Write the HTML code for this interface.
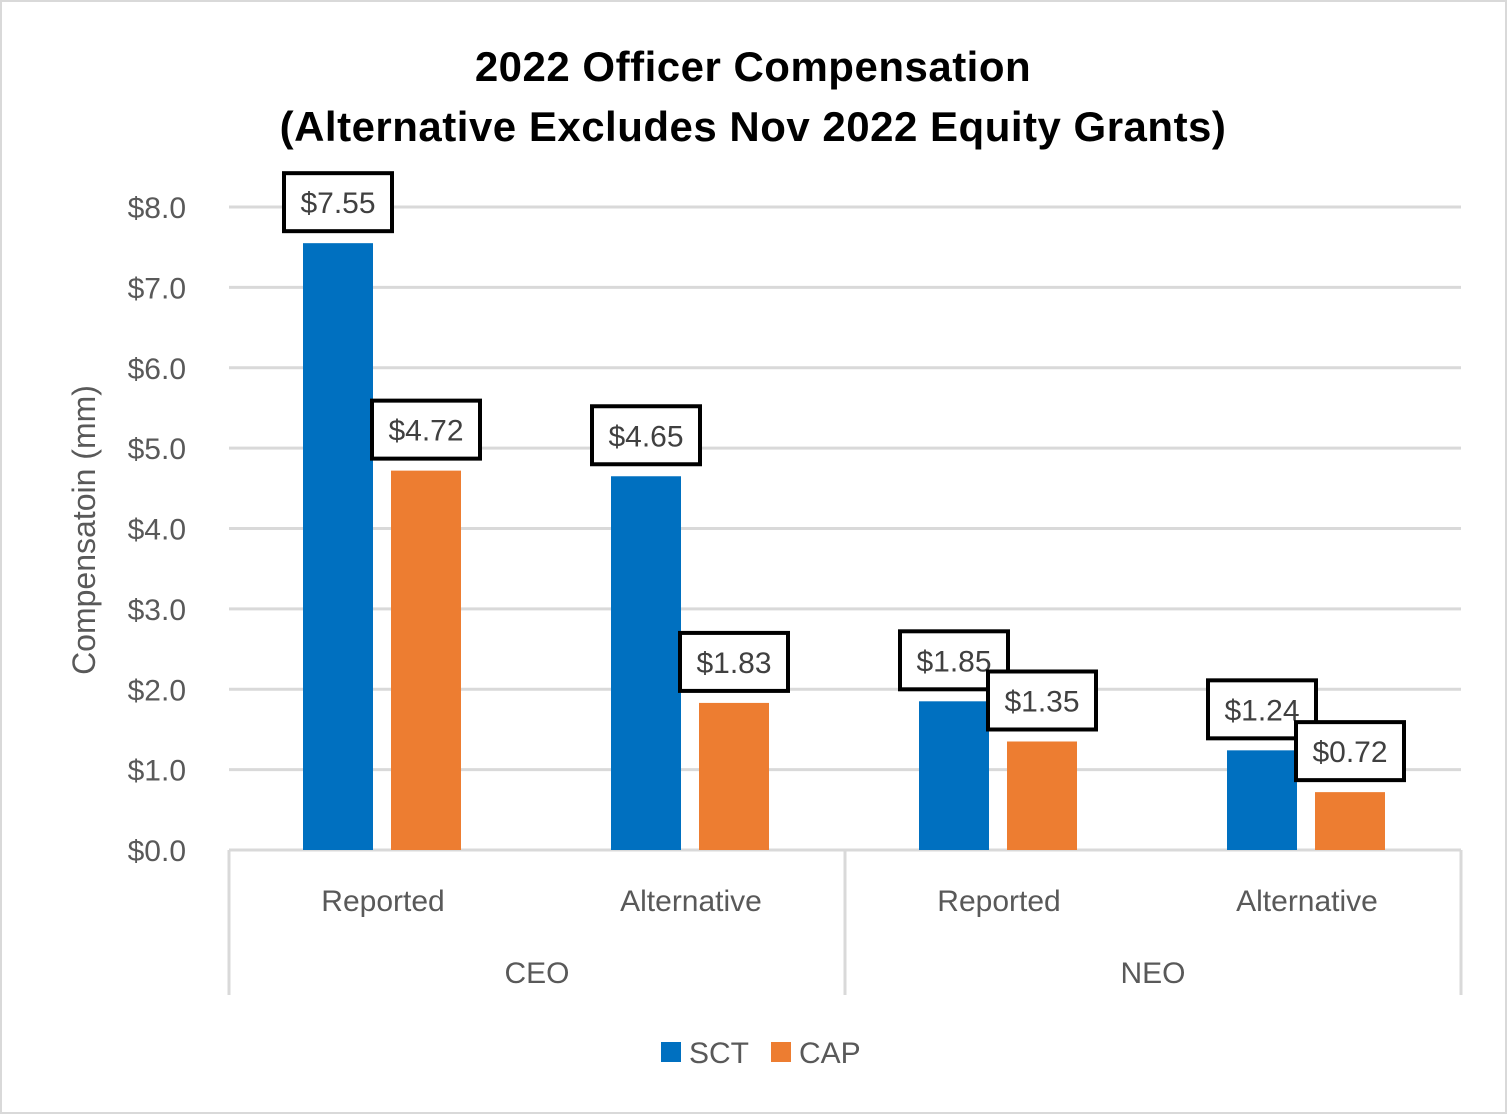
<!DOCTYPE html>
<html><head><meta charset="utf-8"><style>
html,body{margin:0;padding:0;background:#fff;}
svg{display:block;font-family:"Liberation Sans",sans-serif;}
</style></head><body>
<svg id="chart" width="1507" height="1114" viewBox="0 0 1507 1114">
<rect x="1" y="1" width="1505" height="1112" fill="#fff" stroke="#d9d9d9" stroke-width="2"/>
<text x="753" y="81" text-anchor="middle" font-size="42" font-weight="bold" letter-spacing="0.5" fill="#000">2022 Officer Compensation</text>
<text x="753" y="141" text-anchor="middle" font-size="42" font-weight="bold" letter-spacing="0.5" fill="#000">(Alternative Excludes Nov 2022 Equity Grants)</text>
<text transform="translate(95,530) rotate(-90)" text-anchor="middle" font-size="32" fill="#595959">Compensatoin (mm)</text>
<g id="grid"></g><g id="bars"></g><g id="labels"></g><g id="xaxis"></g>
<g>
<rect x="661" y="1042" width="20" height="20" fill="#0070c0"/>
<text x="689" y="1063" font-size="30" fill="#595959">SCT</text>
<rect x="771" y="1042" width="20" height="20" fill="#ed7d31"/>
<text x="799" y="1063" font-size="30" fill="#595959">CAP</text>
</g>
</svg>
<script>
const categories = ["Reported","Alternative","Reported","Alternative"];
const groups = ["CEO","NEO"];
const sctValues = [7.55,4.65,1.85,1.24];
const capValues = [4.72,1.83,1.35,0.72];
const yTicks = [0,1,2,3,4,5,6,7,8];
const yTickLabels = ["$0.0","$1.0","$2.0","$3.0","$4.0","$5.0","$6.0","$7.0","$8.0"];

const NS="http://www.w3.org/2000/svg";
const left=229,right=1461,y0=850,yTop=207,yMax=8;
const y=v=>y0-(v/yMax)*(y0-yTop);
const bandW=(right-left)/categories.length;
const cx=i=>left+bandW*(i+0.5);
function mk(tag,attrs,parent,txt){const e=document.createElementNS(NS,tag);for(const k in attrs)e.setAttribute(k,attrs[k]);if(txt!==undefined)e.textContent=txt;parent.appendChild(e);return e;}
const grid=document.getElementById('grid'),bars=document.getElementById('bars'),labels=document.getElementById('labels'),xaxis=document.getElementById('xaxis');
yTicks.forEach((t,i)=>{
  const l=mk('line',{x1:left,x2:right,y1:y(t),y2:y(t),stroke:'#d9d9d9','stroke-width':3},grid);
  
  
  const tx=mk('text',{x:186,y:y(t)+11,'text-anchor':'end','font-size':30,fill:'#595959'},grid,yTickLabels[i]);
  
  
});
const barW=70;
function drawBar(i,v,off,color,name){
  const r=mk('rect',{x:cx(i)+off-barW/2,y:y(v),width:barW,height:y0-y(v),fill:color},bars);
  
  
  const bx=cx(i)+off, by=y(v)-12;
  const g=mk('g',{},labels);
  
  
  mk('rect',{x:bx-54,y:by-58,width:108,height:58,fill:'#fff',stroke:'#000','stroke-width':4},g);
  mk('text',{x:bx,y:by-18,'text-anchor':'middle','font-size':30,fill:'#404040'},g,'$'+v.toFixed(2));
}
categories.forEach((c,i)=>{
  drawBar(i,sctValues[i],-45,'#0070c0','bar-sct-'+i);
  drawBar(i,capValues[i],43,'#ed7d31','bar-cap-'+i);
  const t=mk('text',{x:cx(i),y:911,'text-anchor':'middle','font-size':30,fill:'#595959'},xaxis,c);
  
  
});
[left,(left+right)/2,right].forEach(x=>{
  const l=mk('line',{x1:x,x2:x,y1:y0,y2:995,stroke:'#d9d9d9','stroke-width':3},xaxis);
  
  
});
groups.forEach((g,i)=>{
  const t=mk('text',{x:left+(right-left)/4*(2*i+1),y:983,'text-anchor':'middle','font-size':30,fill:'#595959'},xaxis,g);
  
  
});
</script>
</body></html>
